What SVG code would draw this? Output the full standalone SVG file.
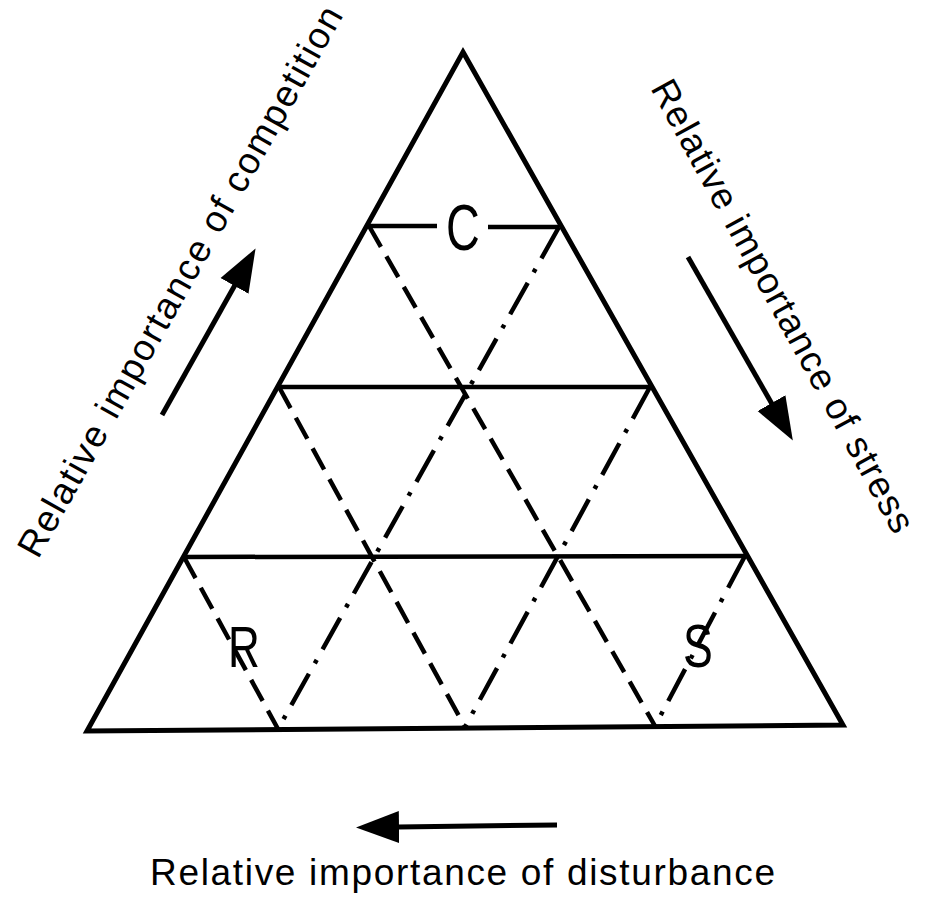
<svg xmlns="http://www.w3.org/2000/svg" width="929" height="907" viewBox="0 0 929 907">
<style>
.edge{fill:none;stroke:#000;stroke-width:5;stroke-linejoin:miter;stroke-linecap:round}
.solid{stroke:#000;stroke-width:4.5;stroke-linecap:butt;fill:none}
.dash{stroke:#000;stroke-width:4.5;fill:none;stroke-dasharray:24 11}
.dashdot{stroke:#000;stroke-width:4.5;fill:none;stroke-dasharray:36 12 4 12}
.arrow{stroke:#000;stroke-width:5;fill:none;marker-end:url(#head)}
.lbl{font-family:"Liberation Sans",Arial,sans-serif;font-size:37px;fill:#000}
.big{font-family:"Liberation Sans",Arial,sans-serif;fill:#000;text-anchor:middle}
</style>
<defs>
<marker id="head" markerUnits="userSpaceOnUse" markerWidth="46" markerHeight="36" refX="1" refY="17" orient="auto">
<path d="M0,1 L43,17 L0,33 Z" fill="#000"/>
</marker>
</defs>
<rect width="929" height="907" fill="#fff"/>
<g id="triangle">
<polygon class="edge" points="463,52 843,725 87,731"/>
</g>
<g id="connectors">
<line class="solid" x1="369" y1="226" x2="437" y2="226"/>
<line class="solid" x1="488" y1="227" x2="559" y2="227"/>
<line class="solid" x1="279" y1="387" x2="650" y2="387"/>
<line class="solid" x1="184" y1="557" x2="745" y2="556"/>
<line class="dash" x1="369" y1="226" x2="655" y2="726"/>
<line class="dash" x1="279" y1="387" x2="465" y2="727"/>
<line class="dash" x1="184" y1="557" x2="278" y2="729"/>
<line class="dashdot" x1="559" y1="227" x2="278" y2="729"/>
<line class="dashdot" x1="650" y1="387" x2="465" y2="727"/>
<line class="dashdot" x1="745" y1="556" x2="655" y2="726"/>
</g>
<g id="arrow-competition">
<line class="arrow" x1="162" y1="415" x2="235" y2="285"/>
</g>
<g id="arrow-stress">
<line class="arrow" x1="688" y1="257" x2="772" y2="404"/>
</g>
<g id="arrow-disturbance">
<line class="arrow" x1="557" y1="825" x2="398" y2="827"/>
</g>
<g id="label-C">
<text class="big" font-size="65" transform="translate(463,250) scale(0.72,1)" x="0" y="0">C</text>
</g>
<g id="label-R">
<text class="big" font-size="58" transform="translate(244,667) scale(0.76,1)" x="0" y="0">R</text>
</g>
<g id="label-S">
<text class="big" font-size="62" transform="translate(698,667) scale(0.72,1)" x="0" y="0">S</text>
</g>
<g id="text-competition">
<text class="lbl" transform="translate(38,560) rotate(-60.7)" x="0" y="0" textLength="625" lengthAdjust="spacing">Relative importance of competition</text>
</g>
<g id="text-stress">
<text class="lbl" font-size="36" transform="translate(650,88) rotate(61.4)" x="0" y="0" textLength="510" lengthAdjust="spacing">Relative importance of stress</text>
</g>
<g id="text-disturbance">
<text class="lbl" x="150" y="885" textLength="625" lengthAdjust="spacing">Relative importance of disturbance</text>
</g>
</svg>
